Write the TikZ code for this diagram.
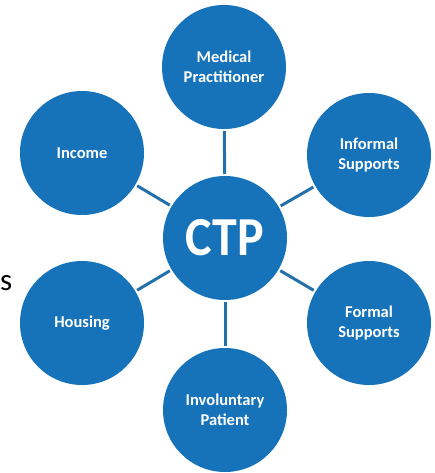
\documentclass[tikz,border=0pt]{standalone}
\usepackage{fontspec}
\setmainfont{Carlito}
\definecolor{hubblue}{RGB}{22,115,186}
\definecolor{linkblue}{RGB}{36,112,170}
\begin{document}
\begin{tikzpicture}[x=1pt,y=-1pt,
  spoke/.style={circle,fill=hubblue,minimum size=124pt,inner sep=0pt,
    text=white,font=\bfseries\fontsize{16.5}{20}\selectfont,align=center},
  hub/.style={spoke,font=\bfseries\fontsize{50}{56}\selectfont},
  link/.style={draw=linkblue,line width=3pt,shorten <=2pt,shorten >=2pt}]
\useasboundingbox (0,0) rectangle (434,473);
% central hub
\node[hub] (ctp) at (225,238) {\scalebox{1}[1.1]{CTP}};
% surrounding circles
\node[spoke] (med) at (224,67)  {Medical\\Practitioner};
\node[spoke] (inf) at (369,155) {Informal\\Supports};
\node[spoke] (for) at (369,323) {Formal\\Supports};
\node[spoke] (inv) at (225,410) {Involuntary\\Patient};
\node[spoke] (hou) at (82,323)  {Housing};
\node[spoke] (inc) at (82,153)  {Income};
% connectors
\foreach \n in {med,inf,for,inv,hou,inc}
  \draw[link] (ctp) -- (\n);
% last letter of a word at the left edge
\node[anchor=base west,inner sep=0pt,font=\fontsize{31}{36}\selectfont] (frag) at (0,290) {s};
\end{tikzpicture}
\end{document}
